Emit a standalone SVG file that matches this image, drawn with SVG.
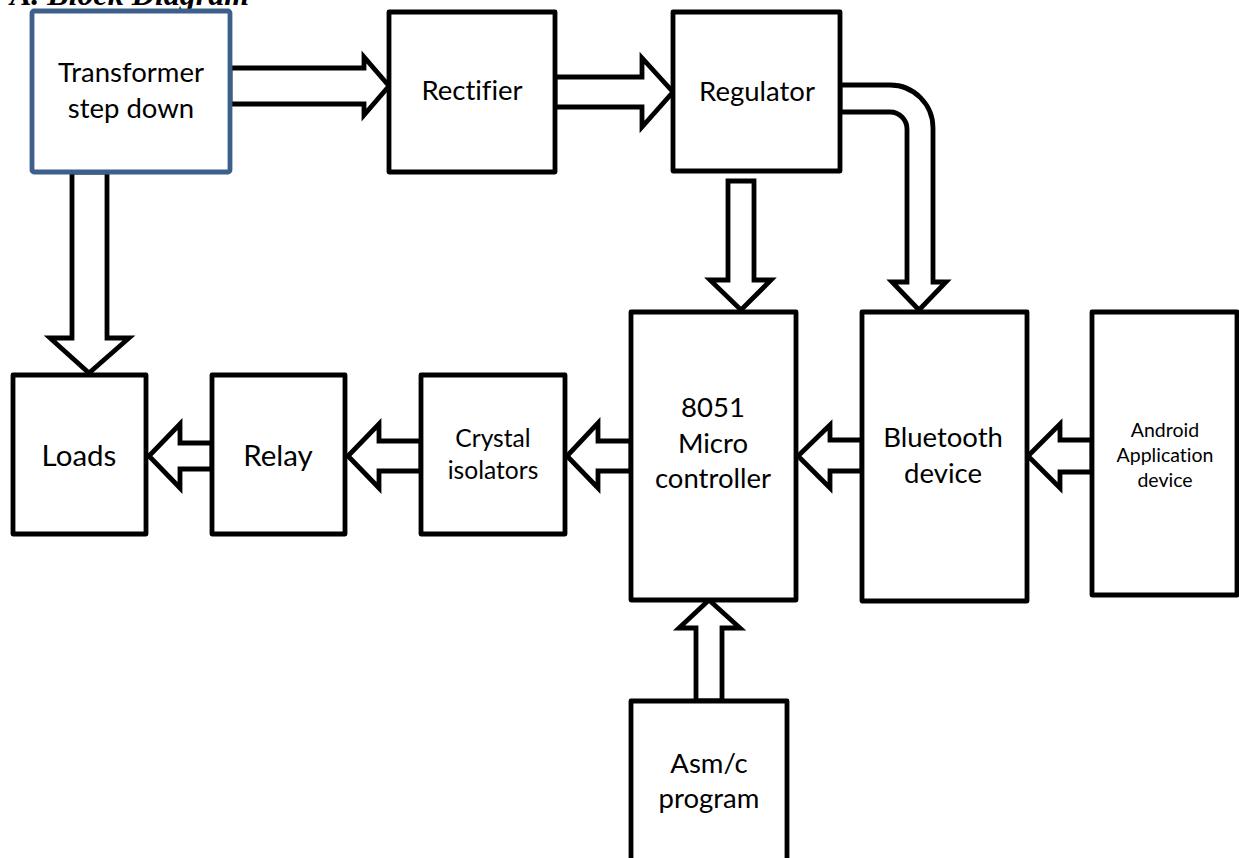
<svg xmlns="http://www.w3.org/2000/svg" width="1239" height="858" viewBox="0 0 1239 858">
<style>
.box{fill:#fff;stroke:#000;stroke-width:4.8;stroke-linejoin:round}
.tbox{fill:#fff;stroke:#3d5f8c;stroke-width:4.8;stroke-linejoin:round}
.arr{fill:#fff;stroke:#000;stroke-width:4.8;stroke-linejoin:miter;stroke-miterlimit:10}
.t{font-family:Lato,'Liberation Sans',sans-serif;font-size:27.5px;fill:#000;text-anchor:middle;font-variant-ligatures:none}
.big{font-size:29.5px}
.mid{font-size:24.6px}
.sm{font-size:19.5px}
.title{font-family:'Liberation Serif',serif;font-weight:bold;font-style:italic;font-size:32px;fill:#000}
</style>
<rect width="1239" height="858" fill="#fff"/>
<text class="title" x="10" y="5">A. Block Diagram</text>
<g id="connectors">
  <polygon class="arr" points="230,68 364,68 364,57 389,86 364,115 364,104 230,104"/>
  <polygon class="arr" points="555,77 642,77 642,58 673,92 642,127 642,107 555,107"/>
  <path class="arr" d="M840,85 H890 A43,43 0 0 1 933,128 V282 H946 L919,310 L892,282 H907 V129 A17,17 0 0 0 890,112 H840 Z"/>
  <polygon class="arr" points="728,181 754,181 754,280 771,280 741,310 710,280 728,280"/>
  <polygon class="arr" points="72,172 107,172 107,338 129,338 89,373 50,338 72,338"/>
  <polygon class="arr" points="212,443 180,443 180,424 149,456 180,488 180,469 212,469"/>
  <polygon class="arr" points="421,441 379,441 379,424 348,456 379,488 379,471 421,471"/>
  <polygon class="arr" points="631,441 598,441 598,423 567,456 598,488 598,471 631,471"/>
  <polygon class="arr" points="862,440 830,440 830,425 798,456 830,488 830,471 862,471"/>
  <polygon class="arr" points="1092,440 1060,440 1060,424 1028,456 1060,488 1060,472 1092,472"/>
  <polygon class="arr" points="696,701 696,628 679,628 709,600 740,628 722,628 722,701"/>
</g>
<g id="transformer">
  <rect class="tbox" x="32" y="11" width="198" height="161" rx="2"/>
  <text class="t" x="131" y="82">Transformer</text>
  <text class="t" x="131" y="118">step down</text>
</g>
<g id="rectifier">
  <rect class="box" x="389" y="12" width="166" height="160"/>
  <text class="t" x="472" y="100">Rectifier</text>
</g>
<g id="regulator">
  <rect class="box" x="673" y="12" width="167" height="159"/>
  <text class="t" x="757" y="101">Regulator</text>
</g>
<g id="loads">
  <rect class="box" x="13" y="375" width="133" height="159"/>
  <text class="t big" x="79" y="466">Loads</text>
</g>
<g id="relay">
  <rect class="box" x="212" y="375" width="133" height="159"/>
  <text class="t big" x="278" y="466">Relay</text>
</g>
<g id="crystal">
  <rect class="box" x="421" y="375" width="144" height="159"/>
  <text class="t mid" x="493" y="447">Crystal</text>
  <text class="t mid" x="493" y="479">isolators</text>
</g>
<g id="micro">
  <rect class="box" x="631" y="312" width="165" height="288"/>
  <text class="t" x="713" y="417">8051</text>
  <text class="t" x="713" y="453">Micro</text>
  <text class="t" x="713" y="488">controller</text>
</g>
<g id="bluetooth">
  <rect class="box" x="862" y="312" width="165" height="289"/>
  <text class="t" x="943" y="447">Bluetooth</text>
  <text class="t" x="943" y="483">device</text>
</g>
<g id="android">
  <rect class="box" x="1092" y="312" width="145" height="283"/>
  <text class="t sm" x="1165" y="437">Android</text>
  <text class="t sm" x="1165" y="462">Application</text>
  <text class="t sm" x="1165" y="487">device</text>
</g>
<g id="asm">
  <rect class="box" x="631" y="701" width="156" height="180"/>
  <text class="t" x="709" y="773">Asm/c</text>
  <text class="t" x="709" y="808">program</text>
</g>
</svg>
